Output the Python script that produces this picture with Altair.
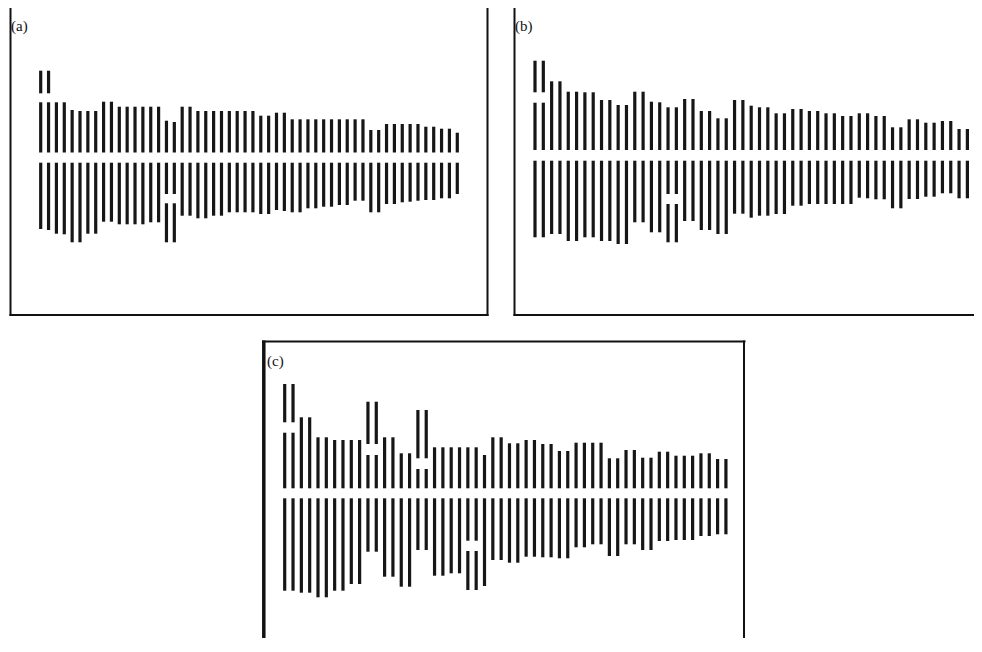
import altair as alt
import pandas as pd

W, H = 966, 630

# ---------------- data: bar heights (upper group) and depths (lower group) ----------------
A_UP = [50.2, 50.2, 50.2, 50.2, 42.5, 41.5, 41.5, 41.5, 50.8, 50.8,
        45.8, 45.8, 45.8, 45.8, 45.8, 45.8, 31.8, 30.5, 45.8, 45.8,
        41.5, 41.5, 41.5, 41.5, 41.5, 41.5, 41.5, 41.5, 36.8, 36.8,
        39.8, 39.8, 33.2, 33.2, 33.2, 33.2, 33.2, 33.2, 33.2, 33.2,
        33.2, 33.2, 22.5, 22.5, 28.5, 28.5, 28.5, 28.5, 28.5, 25.8,
        25.8, 23.8, 23.8, 19.8]
A_LO = [66.3, 67.3, 71.0, 71.6, 79.6, 79.6, 71.0, 71.0, 59.0, 59.0,
        61.6, 61.6, 61.6, 61.6, 59.6, 59.6, 31.3, 31.3, 53.0, 53.0,
        55.6, 55.6, 53.0, 53.0, 49.6, 49.6, 49.6, 49.6, 51.3, 51.3,
        47.3, 48.3, 49.6, 49.6, 45.6, 45.6, 44.0, 44.0, 42.3, 42.3,
        38.0, 38.0, 49.6, 49.6, 41.3, 41.3, 39.6, 39.0, 38.0, 37.3,
        37.3, 35.6, 35.6, 31.3]
A_UP_EXTRA = [(1, 59.2, 81.8), (2, 59.2, 81.8)]
A_LO_EXTRA = [(17, 40.6, 79.6), (18, 40.6, 79.6)]

B_UP = [47.3, 47.3, 68.7, 68.7, 58.3, 58.3, 57.7, 57.7, 50.0, 50.0,
        45.0, 45.0, 58.3, 58.3, 48.3, 47.7, 42.7, 42.7, 51.0, 51.0,
        39.0, 39.0, 31.7, 31.7, 50.0, 50.0, 44.3, 42.7, 42.7, 36.7,
        36.7, 41.0, 41.0, 39.0, 39.0, 36.7, 36.7, 34.0, 34.0, 36.7,
        36.7, 34.0, 34.0, 22.7, 22.7, 30.7, 30.7, 27.3, 27.3, 29.0,
        29.0, 21.0, 21.0, 17.3]
B_LO = [76.6, 76.6, 73.3, 73.3, 80.3, 80.3, 76.6, 76.6, 80.3, 80.3,
        83.3, 83.3, 61.6, 61.6, 71.6, 71.6, 33.3, 33.3, 60.3, 60.3,
        69.3, 69.3, 73.3, 73.3, 53.0, 53.0, 57.0, 55.0, 55.0, 53.3,
        53.3, 45.0, 45.0, 43.3, 43.3, 43.3, 43.3, 43.3, 43.3, 37.0,
        37.6, 38.6, 38.6, 47.6, 47.6, 38.3, 38.3, 36.0, 36.0, 32.6,
        32.6, 37.6, 37.6, 41.0]
B_UP_EXTRA = [(1, 57.7, 89.3), (2, 57.7, 89.3)]
B_LO_EXTRA = [(17, 43.3, 81.6), (18, 43.3, 81.6)]

C_UP = [55.6, 55.6, 71.0, 71.0, 51.0, 51.0, 48.3, 48.3, 48.3, 48.3,
        33.3, 33.3, 51.0, 51.0, 35.0, 35.0, 19.3, 19.3, 41.0, 41.0,
        41.0, 41.0, 41.0, 41.0, 33.3, 51.0, 51.0, 45.0, 45.0, 48.3,
        48.3, 44.3, 44.3, 37.3, 37.3, 45.6, 45.6, 45.6, 45.6, 30.0,
        30.0, 38.3, 38.3, 30.6, 30.6, 36.6, 36.6, 32.6, 32.6, 32.6,
        35.0, 35.0, 29.3, 29.3]
C_LO = [92.4, 92.4, 94.4, 94.4, 99.0, 99.0, 92.4, 92.4, 85.7, 85.7,
        53.4, 53.4, 78.4, 78.4, 88.4, 88.4, 51.7, 51.7, 77.4, 77.4,
        75.0, 75.0, 42.4, 42.4, 87.7, 61.7, 61.7, 64.4, 64.4, 58.4,
        58.4, 59.0, 59.0, 60.0, 60.0, 49.0, 49.0, 46.0, 46.0, 57.7,
        57.7, 46.0, 46.0, 51.7, 51.7, 42.7, 42.7, 41.7, 41.7, 41.7,
        37.7, 37.7, 36.0, 36.0]
C_UP_EXTRA = [(1, 66.0, 104.3), (2, 66.0, 104.3),
              (11, 44.3, 86.6), (12, 44.3, 86.6),
              (17, 30.0, 78.3), (18, 30.0, 78.3)]
C_LO_EXTRA = [(23, 52.7, 91.7), (24, 52.7, 91.7)]

LABELS = ["(a)", "(b)", "(c)"]

# ---------------- layout (page pixel geometry of each panel) ----------------
PANELS = [
    dict(up=A_UP, lo=A_LO, upx=A_UP_EXTRA, lox=A_LO_EXTRA, x1=40.7, dx=7.86, y_up=152.5, y_lo=162.7),
    dict(up=B_UP, lo=B_LO, upx=B_UP_EXTRA, lox=B_LO_EXTRA, x1=535.0, dx=8.315, y_up=150.0, y_lo=160.7),
    dict(up=C_UP, lo=C_LO, upx=C_UP_EXTRA, lox=C_LO_EXTRA, x1=284.7, dx=8.325, y_up=488.3, y_lo=498.3),
]

BAR_COLOR = "#161616"


def segments(main, extra):
    rows = [{"i": k + 1, "s": 0.0, "e": v} for k, v in enumerate(main)]
    rows += [{"i": i, "s": s, "e": e} for (i, s, e) in extra]
    return pd.DataFrame(rows)


def bar_layer(df, p, lower):
    dL = 1 - (p["x1"] - 8) / p["dx"]
    dR = dL + W / p["dx"]
    if lower:
        lo = 8 - p["y_lo"]
        ysc = alt.Scale(domain=[lo, lo + H], nice=False, zero=False, reverse=True)
    else:
        hi = p["y_up"] - 8
        ysc = alt.Scale(domain=[hi - H, hi], nice=False, zero=False)
    return alt.Chart(df).mark_rule(strokeWidth=3.2, color=BAR_COLOR, strokeCap="butt").encode(
        x=alt.X("i:Q", scale=alt.Scale(domain=[dL, dR], nice=False, zero=False), axis=None),
        y=alt.Y("s:Q", scale=ysc, axis=None),
        y2="e:Q",
    )


layers = []
for p in PANELS:
    layers.append(bar_layer(segments(p["up"], p["upx"]), p, False))
    layers.append(bar_layer(segments(p["lo"], p["lox"]), p, True))

one = alt.Data(values=[{}])


def vrule(x, y1, y2, w=2, color="#111"):
    return alt.Chart(one).mark_rule(strokeWidth=w, color=color).encode(
        x=alt.value(x - 8), y=alt.value(y1 - 8), y2=alt.value(y2 - 8))


def hrule(y, x1, x2, w=2, color="#111"):
    return alt.Chart(one).mark_rule(strokeWidth=w, color=color).encode(
        y=alt.value(y - 8), x=alt.value(x1 - 8), x2=alt.value(x2 - 8))


frames = [
    # (a)
    vrule(10.5, 0, 316), vrule(487.5, 0, 316), hrule(315, 9.5, 488.5),
    # (b)
    vrule(514.5, 0, 316), hrule(315, 513.5, 990),
    # (c)
    hrule(341.5, 262, 745.5), vrule(263.8, 340.5, 660, w=3.5), vrule(744, 340.5, 660),
]


def label(txt, x, y):
    return alt.Chart(one).mark_text(
        font="Liberation Serif", fontSize=15, align="left", baseline="alphabetic", color="#111"
    ).encode(x=alt.value(x - 8), y=alt.value(y - 8), text=alt.value(txt))


texts = [label(LABELS[0], 11, 31), label(LABELS[1], 515, 31), label(LABELS[2], 267, 366)]

chart = alt.layer(*layers, *frames, *texts).resolve_scale(
    x="independent", y="independent"
).properties(
    width=W, height=H, padding=0, autosize=alt.AutoSizeParams(type="none")
).configure_view(stroke=None)

chart.save("out.html", embed_options={"renderer": "svg", "actions": False})
